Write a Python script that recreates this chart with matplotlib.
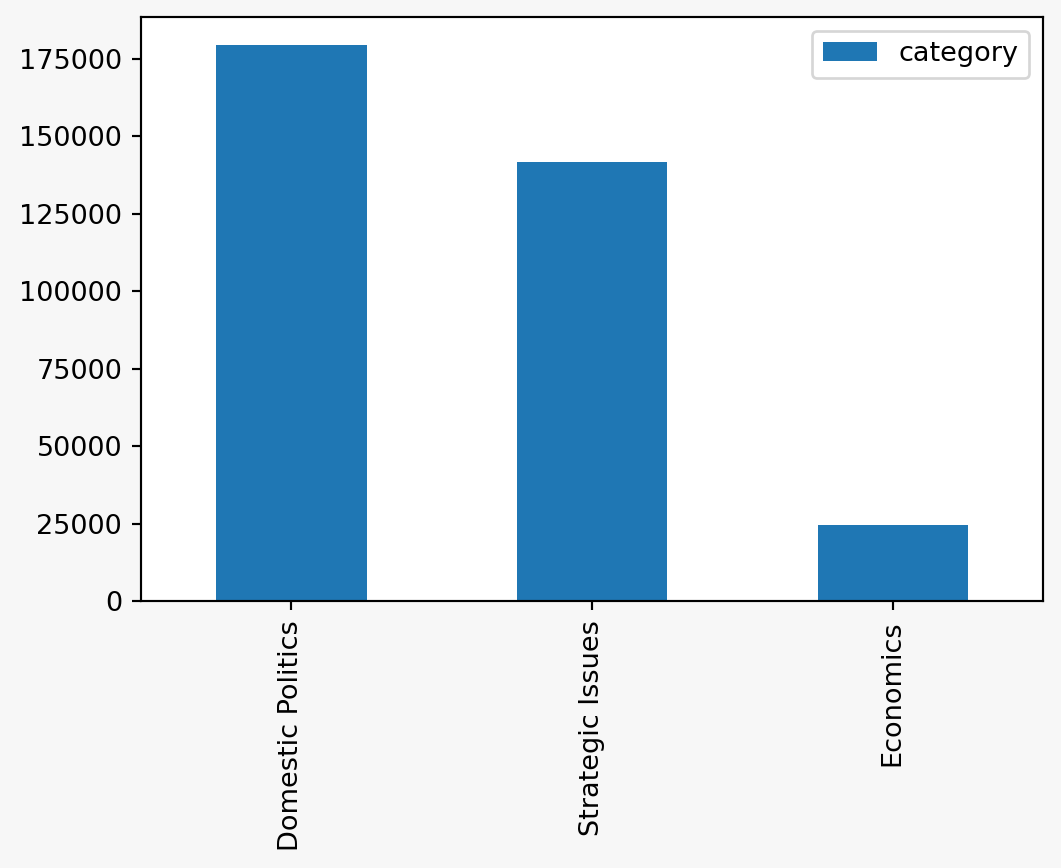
import matplotlib
matplotlib.use('Agg')
import matplotlib.pyplot as plt
import numpy as np

categories = ['Domestic Politics', 'Strategic Issues', 'Economics']
counts = [179600, 141600, 24700]

dpi = 195
fig = plt.figure(figsize=(1061 / dpi, 868 / dpi), dpi=dpi, facecolor='#f7f7f7')
ax = fig.add_axes([0.133, 0.3076, 0.850, 0.6728])

x = np.arange(len(categories))
ax.bar(x, counts, 0.5, color='#1f77b4', label='category')
ax.set_xlim(-0.5, len(categories) - 0.5)
ax.set_xticks(x, categories, rotation=90)
ax.set_yticks(np.arange(0, 175001, 25000))
ax.legend(loc='upper right')

fig.savefig('out.png', dpi=dpi, facecolor=fig.get_facecolor())
